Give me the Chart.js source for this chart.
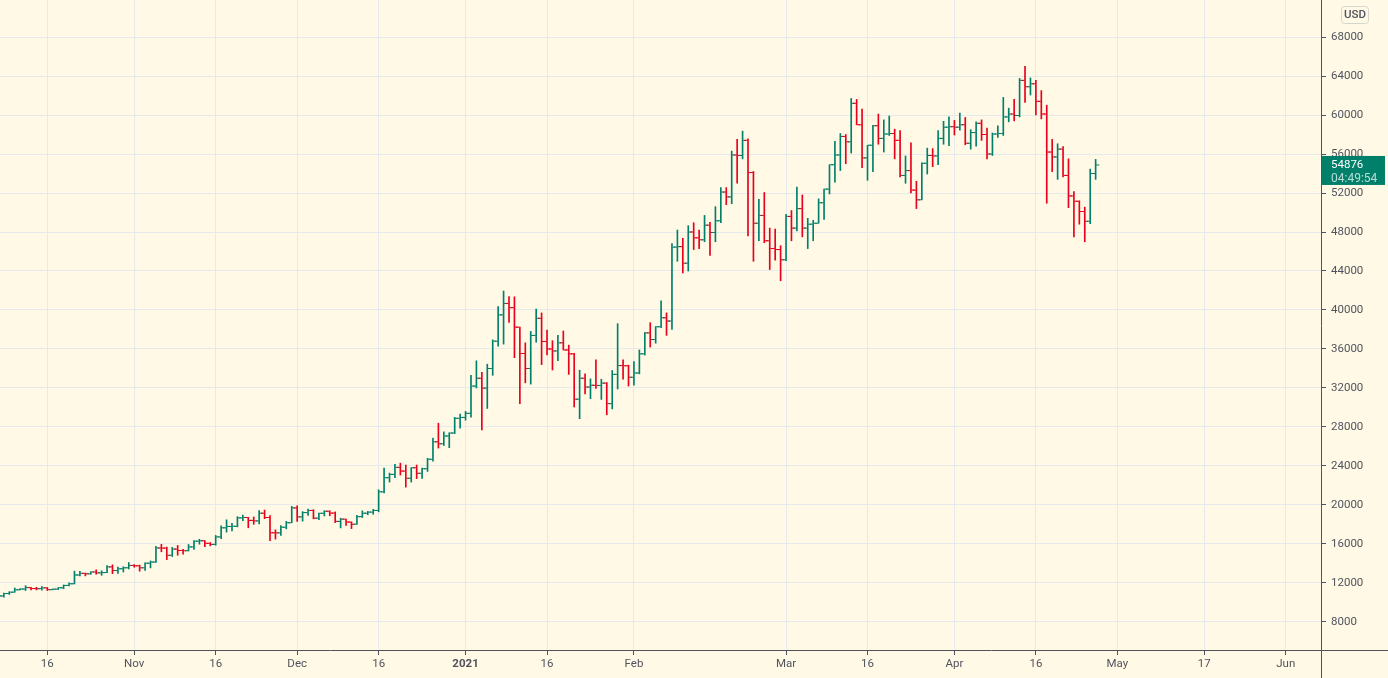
<!DOCTYPE html>
<html>
<head>
<meta charset="utf-8">
<script src="https://cdn.jsdelivr.net/npm/chart.js@4.4.1/dist/chart.umd.min.js"></script>
<style>
  html, body { margin: 0; padding: 0; background: #fff9e6; }
  #wrap { width: 1388px; height: 678px; }
</style>
</head>
<body>
<div id="wrap"><canvas id="myChart" width="1388" height="678"></canvas></div>
<script>
// daily BTC/USD bars, first bar date then one bar per day
const firstDate = '2020-10-07';
const opens = [
  // Oct 7 - Oct 31
  10600, 10670, 10920, 11060, 11300, 11380, 11530, 11430, 11420, 11500, 11320, 11370, 11510, 11750, 11920, 12820, 12990, 12940, 13130, 13040, 13070, 13650, 13280, 13460, 13560,
  // Nov
  13800, 13760, 13560, 14030, 14150, 15590, 15580, 14840, 15480, 15330, 15310, 15700, 16290, 16330, 16070, 15960, 16730, 17660, 17800, 17820, 18680, 18720, 18420, 18370, 19160, 18720, 17150, 17140, 17720, 18180,
  // Dec
  19700, 18780, 19220, 19440, 18650, 19150, 19360, 19170, 18320, 18550, 18250, 18030, 18800, 19160, 19270, 19440, 21350, 22800, 23140, 23860, 23480, 22740, 23820, 23250, 23720, 24690, 26480, 26280, 27080, 27380, 28890,
  // Jan
  28980, 29400, 32200, 33000, 31990, 34000, 36800, 39500, 40670, 40240, 38240, 35540, 34000, 37390, 39150, 36770, 36000, 35800, 36630, 35900, 35500, 30850, 33000, 32100, 32280, 32260, 32500, 30400, 33400, 34300, 34280,
  // Feb
  33100, 33540, 35500, 37650, 36970, 38280, 39200, 38870, 46450, 46500, 44800, 48000, 47400, 47200, 48700, 47950, 49150, 52100, 51600, 55900, 55850, 57400, 54100, 48900, 49700, 47100, 46300, 46200,
  // Mar
  45150, 49600, 48400, 50400, 48400, 48800, 48900, 51000, 52400, 54900, 55900, 57800, 57250, 61200, 59000, 55600, 56900, 58900, 57600, 58050, 58100, 57400, 53800, 54300, 52300, 51300, 55050, 55850, 55800, 57600, 58750,
  // Apr 1 - Apr 27
  58800, 58750, 59000, 57100, 58200, 59150, 58000, 56000, 58050, 58100, 59800, 60100, 59950, 63550, 62900, 63200, 61400, 60100, 56200, 55700, 56500, 53800, 51700, 51150, 50100, 49100, 54000
];
const highs = [
  10680, 10960, 11110, 11490, 11440, 11730, 11560, 11560, 11630, 11540, 11400, 11530, 11800, 12030, 13220, 13190, 13020, 13160, 13350, 13250, 13790, 13860, 13640, 13670, 14100,
  13890, 13840, 14070, 14260, 15760, 15970, 15680, 15650, 15850, 15460, 15950, 16350, 16490, 16340, 16150, 16880, 17860, 18480, 18120, 18800, 18970, 18740, 18770, 19420, 19480, 18920, 17450, 17880, 18330, 19860,
  19920, 19320, 19580, 19520, 19170, 19420, 19410, 19290, 18640, 18560, 18270, 18940, 19400, 19340, 19560, 21560, 23780, 23270, 24170, 24290, 24100, 23840, 24100, 23780, 24790, 26870, 28390, 27500, 27410, 28990, 29320,
  29600, 33300, 34790, 33600, 34440, 36940, 40350, 41950, 41380, 41350, 38260, 36630, 37800, 40100, 39700, 37950, 36850, 37400, 37850, 36400, 35560, 33830, 33450, 32940, 34880, 32900, 32560, 33800, 38600, 34900, 34340,
  34700, 35900, 37700, 38700, 38300, 40950, 39700, 46800, 48200, 47350, 48650, 48950, 48200, 49700, 49000, 50600, 52550, 52550, 56300, 57500, 58350, 57550, 54200, 51350, 52050, 48400, 48300, 46600,
  49800, 50200, 52600, 51800, 49400, 49200, 51400, 52400, 54900, 57300, 58100, 58000, 61700, 61600, 60600, 56900, 58950, 60100, 59500, 59900, 58550, 58400, 55800, 57150, 53200, 55100, 56600, 56550, 58400, 59350, 59800,
  59450, 60200, 59750, 58500, 59300, 59500, 58650, 58150, 58900, 61800, 60700, 61600, 63750, 65000, 63800, 63550, 62500, 61000, 57500, 57050, 56750, 55500, 52150, 51200, 50550, 54450, 55450
];
const lows = [
  10530, 10540, 10830, 11050, 11280, 11230, 11300, 11290, 11270, 11230, 11300, 11330, 11420, 11690, 11900, 12720, 12730, 12890, 12900, 12790, 13070, 12960, 12980, 13130, 13440,
  13620, 13210, 13290, 13550, 14100, 15200, 14400, 14720, 14850, 14960, 15280, 15450, 15980, 15730, 15810, 15880, 16550, 17220, 17350, 17760, 18400, 17660, 18020, 18050, 18600, 16330, 16500, 16880, 17550, 18180,
  18320, 18340, 18920, 18580, 18500, 18880, 18900, 18200, 17650, 17910, 17580, 18000, 18720, 19000, 19050, 19300, 21230, 22350, 22800, 23070, 21840, 22350, 22710, 22720, 23440, 24500, 25840, 26100, 25880, 27320, 27880,
  28700, 29000, 32000, 27700, 29900, 33300, 36300, 36500, 38720, 35110, 30400, 32530, 32400, 36700, 34400, 35400, 33850, 34800, 35900, 33400, 30050, 28850, 31400, 30900, 31950, 30830, 29250, 29850, 31900, 32900, 32200,
  32300, 33450, 35380, 36200, 36600, 38200, 37400, 38000, 45000, 43800, 44000, 46200, 46300, 47000, 45600, 47000, 48950, 50800, 50900, 53000, 55500, 47600, 45000, 47100, 46900, 44150, 45100, 43000,
  45050, 47100, 48100, 47500, 46300, 47100, 48900, 49300, 51900, 53100, 54300, 55000, 56100, 59000, 54600, 53300, 54200, 57000, 56200, 57900, 55500, 53650, 53000, 52000, 50400, 51300, 53950, 54700, 54900, 57000, 56850,
  57950, 58450, 56950, 56500, 56800, 57400, 55500, 55850, 57700, 57900, 59300, 59400, 59800, 61300, 62050, 60000, 59600, 50950, 54200, 53400, 53650, 50500, 47500, 48800, 47000, 48850, 53400
];
const closes = [
  10670, 10920, 11060, 11300, 11380, 11530, 11430, 11420, 11500, 11320, 11370, 11510, 11750, 11920, 12820, 12990, 12940, 13130, 13040, 13070, 13650, 13280, 13460, 13560, 13800,
  13760, 13560, 14030, 14150, 15590, 15580, 14840, 15480, 15330, 15310, 15700, 16290, 16330, 16070, 15960, 16730, 17660, 17800, 17820, 18680, 18720, 18420, 18370, 19160, 18720, 17150, 17140, 17720, 18180, 19700,
  18780, 19220, 19440, 18650, 19150, 19360, 19170, 18320, 18550, 18250, 18030, 18800, 19160, 19270, 19440, 21350, 22800, 23140, 23860, 23480, 22740, 23820, 23250, 23720, 24690, 26480, 26280, 27080, 27380, 28890, 28980,
  29400, 32200, 33000, 31990, 34000, 36800, 39500, 40670, 40240, 38240, 35540, 34000, 37390, 39150, 36770, 36000, 35800, 36630, 35900, 35500, 30850, 33000, 32100, 32280, 32260, 32500, 30400, 33400, 34300, 34280, 33100,
  33540, 35500, 37650, 36970, 38280, 39200, 38870, 46450, 46500, 44800, 48000, 47400, 47200, 48700, 47950, 49150, 52100, 51600, 55900, 55850, 57400, 54100, 48900, 49700, 47100, 46300, 46200, 45150,
  49600, 48400, 50400, 48400, 48800, 48900, 51000, 52400, 54900, 55900, 57800, 57250, 61200, 59000, 55600, 56900, 58900, 57600, 58050, 58100, 57400, 53800, 54300, 52300, 51300, 55050, 55850, 55800, 57600, 58750, 58800,
  58750, 59000, 57100, 58200, 59150, 58000, 56000, 58050, 58100, 59800, 60100, 59950, 63550, 62900, 63200, 61400, 60100, 56200, 55700, 56500, 53800, 51700, 51150, 50100, 49100, 54000, 54876
];

const tickDates = ['2020-10-16', '2020-11-01', '2020-11-16', '2020-12-01', '2020-12-16', '2021-01-01', '2021-01-16',
  '2021-02-01', '2021-03-01', '2021-03-16', '2021-04-01', '2021-04-16', '2021-05-01', '2021-05-17', '2021-06-01'];
const tickLabels = ['16', 'Nov', '16', 'Dec', '16', '2021', '16', 'Feb', 'Mar', '16', 'Apr', '16', 'May', '17', 'Jun'];
const priceTicks = [8000, 12000, 16000, 20000, 24000, 28000, 32000, 36000, 40000, 44000, 48000, 52000, 56000, 60000, 64000, 68000];
const lastPrice = 54876;
const countdown = '04:49:54';
const currency = 'USD';

const upColor = '#00806a';
const downColor = '#e8001c';
const axisColor = '#50535e';
const gridColor = '#e5eaed';
const font = 'Roboto, "Liberation Sans", sans-serif';

const DAY = 86400000;
const origin = Date.parse('2020-10-16');
const dayIndex = s => Math.round((Date.parse(s) - origin) / DAY);
const start = dayIndex(firstDate);
const xs = closes.map((c, i) => start + i);
const colors = closes.map((c, i) => (c >= opens[i] ? upColor : downColor));
const TICK_SHIFT = 0.38; // open/close ticks sit just beside the bar

const chrome = {
  id: 'chrome',
  afterDraw(chart) {
    const { ctx, chartArea: a, scales: { y } } = chart;
    ctx.save();
    ctx.strokeStyle = axisColor;
    ctx.lineWidth = 1;
    ctx.beginPath();
    ctx.moveTo(a.right, Math.round(a.bottom) + 0.5);
    ctx.lineTo(chart.width, Math.round(a.bottom) + 0.5);
    ctx.moveTo(Math.round(a.right) + 0.5, a.bottom);
    ctx.lineTo(Math.round(a.right) + 0.5, chart.height);
    ctx.stroke();

    // currency badge
    ctx.beginPath();
    ctx.roundRect(1341.5, 6.5, 27, 17, 3);
    ctx.fillStyle = '#fff9e6';
    ctx.fill();
    ctx.strokeStyle = '#d6d6d0';
    ctx.stroke();
    ctx.fillStyle = axisColor;
    ctx.font = '500 11.5px ' + font;
    ctx.textAlign = 'center';
    ctx.textBaseline = 'middle';
    ctx.fillText(currency, 1355, 15.5);

    // last price label
    const py = y.getPixelForValue(lastPrice);
    ctx.fillStyle = upColor;
    ctx.fillRect(a.right + 1, py - 9, 63, 29);
    ctx.textAlign = 'left';
    ctx.fillStyle = '#ffffff';
    ctx.font = '11.5px ' + font;
    ctx.fillText(String(lastPrice), 1331, py);
    ctx.fillStyle = 'rgba(255,255,255,0.72)';
    ctx.font = '12px ' + font;
    ctx.fillText(countdown, 1331, py + 14.5);
    ctx.restore();
  }
};

var ctx = document.getElementById('myChart').getContext('2d');
var myChart = new Chart(ctx, {
  type: 'bar',
  data: {
    datasets: [{
      data: xs.map((x, i) => ({ x: x, y: [lows[i], highs[i]] })),
      backgroundColor: colors,
      borderWidth: 0,
      barThickness: 1,
      grouped: false
    }, {
      type: 'scatter',
      data: xs.map((x, i) => ({ x: x - TICK_SHIFT, y: opens[i] })),
      pointStyle: 'line',
      pointRadius: 1.6,
      pointBorderWidth: 1,
      pointBorderColor: colors,
      pointBackgroundColor: colors
    }, {
      type: 'scatter',
      data: xs.map((x, i) => ({ x: x + TICK_SHIFT, y: closes[i] })),
      pointStyle: 'line',
      pointRadius: 1.6,
      pointBorderWidth: 1,
      pointBorderColor: colors,
      pointBackgroundColor: colors
    }]
  },
  options: {
    responsive: false,
    animation: false,
    events: [],
    devicePixelRatio: 1,
    layout: { padding: 0, autoPadding: false },
    plugins: { legend: { display: false }, tooltip: { enabled: false } },
    scales: {
      x: {
        type: 'linear',
        offset: false,
        min: -8.71,
        max: 234.49,
        afterBuildTicks: s => { s.ticks = tickDates.map(d => ({ value: dayIndex(d) })); },
        afterFit: s => { s.height = 28; s.paddingLeft = 0; s.paddingRight = 0; },
        grid: { offset: false, color: gridColor, tickColor: axisColor, tickLength: 5 },
        border: { display: true, color: axisColor },
        ticks: {
          autoSkip: false,
          maxRotation: 0,
          padding: 2,
          color: axisColor,
          font: c => ({ family: font, size: 11.5, weight: c.index === 5 ? 'bold' : 'normal' }),
          callback: (v, i) => tickLabels[i]
        }
      },
      y: {
        type: 'linear',
        position: 'right',
        min: 5128,
        max: 71795,
        afterBuildTicks: s => { s.ticks = priceTicks.map(v => ({ value: v })); },
        afterFit: s => { s.width = 67; s.paddingTop = 0; s.paddingBottom = 0; },
        grid: { color: gridColor, tickColor: axisColor, tickLength: 5 },
        border: { display: true, color: axisColor },
        ticks: {
          padding: 5,
          color: axisColor,
          font: { family: font, size: 11.5 },
          callback: v => String(v)
        }
      }
    }
  },
  plugins: [chrome]
});
</script>
</body>
</html>
